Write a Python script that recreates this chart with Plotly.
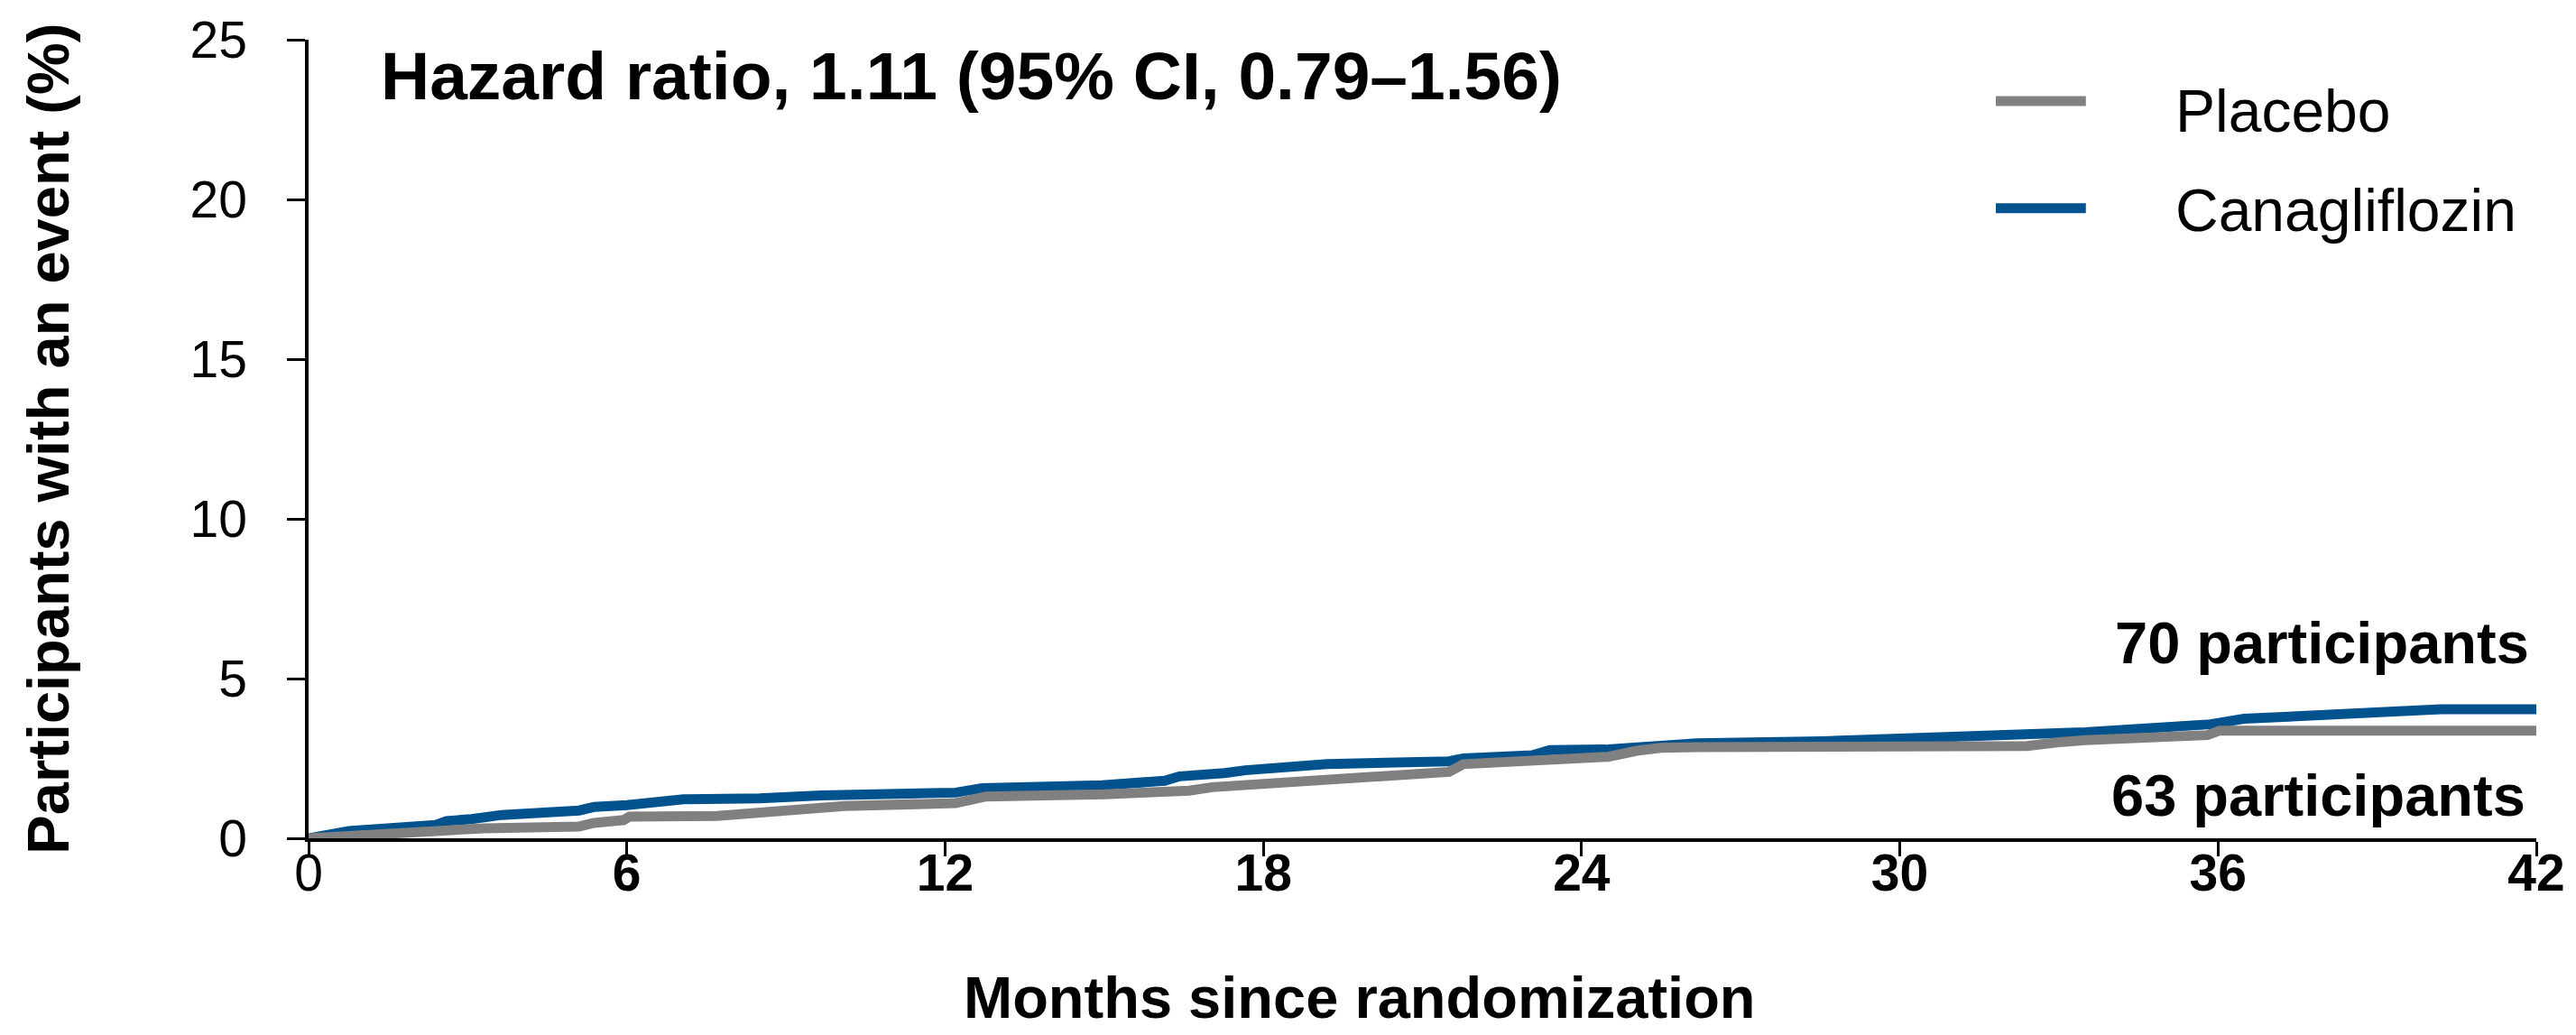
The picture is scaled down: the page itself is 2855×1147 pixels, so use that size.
import plotly.graph_objects as go

# ---- Data ----
cana_months = [0, 0.76, 2.4, 2.6, 3.07, 3.64, 5.1, 5.38, 6.0, 6.56, 7.07, 8.5, 9.66,
               12.2, 12.7, 14.96, 16.14, 16.42, 17.04, 17.27, 17.66, 18.28, 19.2,
               21.5, 21.77, 23.07, 23.4, 24.5, 25.3, 26.17, 28.54, 30.8, 32.5,
               33.5, 35.86, 36.49, 40.2, 42]
cana_pct = [0, 0.23, 0.42, 0.54, 0.6, 0.73, 0.87, 0.98, 1.04, 1.13, 1.22, 1.25, 1.34,
            1.43, 1.57, 1.66, 1.8, 1.94, 1.97, 2.04, 2.13, 2.22, 2.32,
            2.41, 2.5, 2.6, 2.76, 2.78, 2.86, 2.97, 3.04, 3.14, 3.22,
            3.32, 3.57, 3.74, 4.04, 4.04]

plac_months = [0, 0.87, 2.56, 3.3, 5.1, 5.38, 5.94, 6.05, 7.7, 8.5, 8.7, 10.1, 12.2,
               12.77, 15.0, 16.6, 17.04, 17.83, 19.25, 19.75, 20.36, 21.5, 21.77,
               23.46, 24.5, 25.04, 25.49, 26.17, 32.4, 33.0, 33.5, 35.8, 36.03, 42]
plac_pct = [0, 0.1, 0.22, 0.31, 0.37, 0.48, 0.57, 0.68, 0.7, 0.78, 0.87, 1.01, 1.1,
            1.31, 1.38, 1.49, 1.6, 1.69, 1.78, 1.9, 1.94, 2.08, 2.32,
            2.5, 2.55, 2.74, 2.83, 2.85, 2.89, 3.01, 3.07, 3.23, 3.37, 3.37]

x_tickvals = [0, 6, 12, 18, 24, 30, 36, 42]
x_ticktext = ["0", "<b>6</b>", "<b>12</b>", "<b>18</b>", "<b>24</b>",
              "<b>30</b>", "<b>36</b>", "<b>42</b>"]
y_tickvals = [0, 5, 10, 15, 20, 25]

series_names = ["Placebo", "Canagliflozin"]
series_colors = ["#808080", "#01528D"]

hr_text = "Hazard ratio, 1.11 (95% CI, 0.79–1.56)"
cana_count = "70 participants"
plac_count = "63 participants"

FONT = "Liberation Sans, Arial, sans-serif"

fig = go.Figure()
fig.add_trace(go.Scatter(x=cana_months, y=cana_pct, mode="lines",
                         line=dict(color=series_colors[1], width=11),
                         name=series_names[1], showlegend=False))
fig.add_trace(go.Scatter(x=plac_months, y=plac_pct, mode="lines",
                         line=dict(color=series_colors[0], width=11),
                         name=series_names[0], showlegend=False))

fig.update_layout(
    width=2855, height=1147,
    margin=dict(l=342, r=33, t=35, b=218),
    paper_bgcolor="white", plot_bgcolor="white",
    font=dict(family=FONT, color="black"),
    xaxis=dict(range=[0, 42], tickvals=x_tickvals, ticktext=x_ticktext,
               showgrid=False, zeroline=False, showline=True, linecolor="black",
               linewidth=3.5, ticks="outside", ticklen=16, tickwidth=3,
               tickcolor="black", tickfont=dict(size=57, family=FONT),
               ticklabelstandoff=-30),
    yaxis=dict(range=[0, 25], tickvals=y_tickvals,
               showgrid=False, zeroline=False, showline=True, linecolor="black",
               linewidth=3.5, ticks="outside", ticklen=20, tickwidth=3,
               tickcolor="black", tickfont=dict(size=57, family=FONT),
               ticklabelstandoff=33),
)

ann = []
ann.append(dict(text="<b>" + hr_text + "</b>", xref="paper", yref="paper",
                x=0.0315, y=0.955, xanchor="left", yanchor="middle",
                showarrow=False, font=dict(size=75, family=FONT)))
ann.append(dict(text="<b>" + cana_count + "</b>", xref="paper", yref="paper",
                x=0.9975, y=0.245, xanchor="right", yanchor="middle",
                showarrow=False, font=dict(size=65, family=FONT)))
ann.append(dict(text="<b>" + plac_count + "</b>", xref="paper", yref="paper",
                x=0.996, y=0.0537, xanchor="right", yanchor="middle",
                showarrow=False, font=dict(size=65, family=FONT)))
ann.append(dict(text="<b>Participants with an event (%)</b>", xref="paper", yref="paper",
                x=-0.1170, y=0.5, xanchor="center", yanchor="middle", textangle=-90,
                showarrow=False, font=dict(size=65, family=FONT)))
ann.append(dict(text="<b>Months since randomization</b>", xref="paper", yref="paper",
                x=0.472, y=-0.199, xanchor="center", yanchor="middle",
                showarrow=False, font=dict(size=65, family=FONT)))

# legend (manual)
leg_y = [0.9232, 0.789]        # line positions (paper)
leg_text_y = [0.911, 0.786]
shapes = []
for i, (nm, col) in enumerate(zip(series_names, series_colors)):
    shapes.append(dict(type="line", xref="paper", yref="paper",
                       x0=0.7574, x1=0.7978, y0=leg_y[i], y1=leg_y[i],
                       line=dict(color=col, width=11)))
    ann.append(dict(text=nm, xref="paper", yref="paper", x=0.837, y=leg_text_y[i],
                    xanchor="left", yanchor="middle", showarrow=False,
                    font=dict(size=66, family=FONT)))

fig.update_layout(annotations=ann, shapes=shapes)
fig.write_html("out.html")
